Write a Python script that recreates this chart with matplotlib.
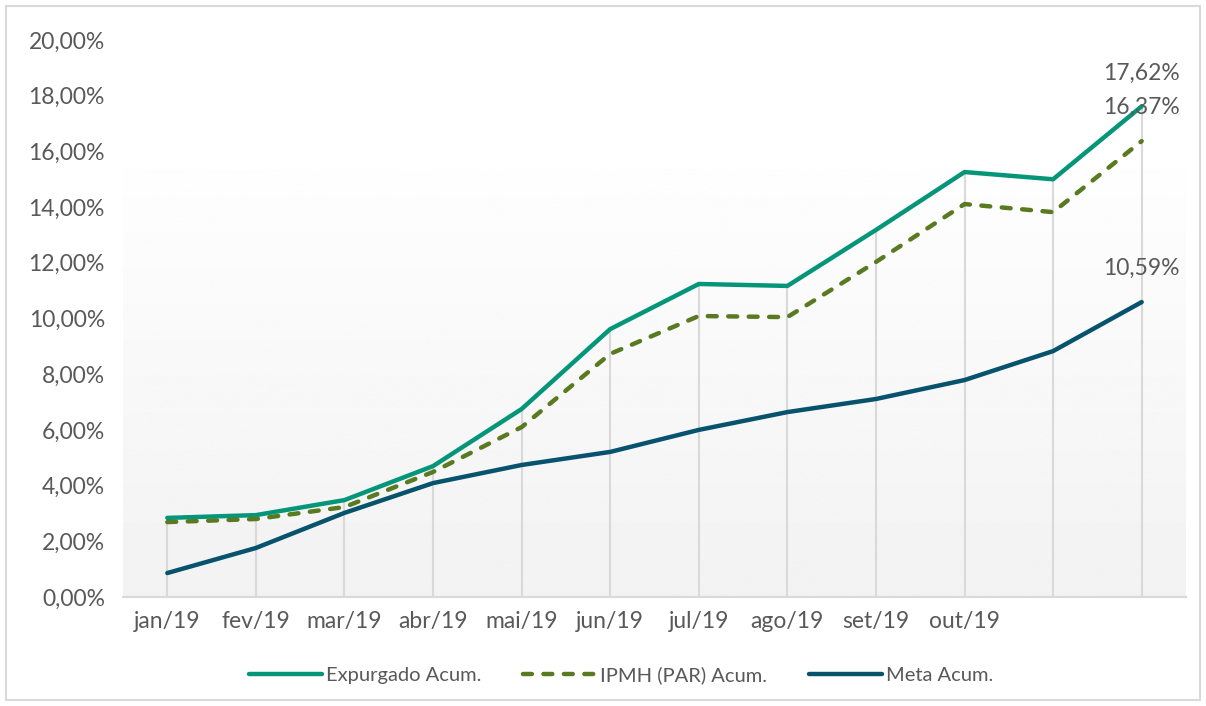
import matplotlib.pyplot as plt
import numpy as np
from matplotlib.patches import Rectangle
from matplotlib.ticker import FuncFormatter

plt.rcParams['font.family'] = ['Lato', 'DejaVu Sans']

meses = ["jan/19", "fev/19", "mar/19", "abr/19", "mai/19", "jun/19",
         "jul/19", "ago/19", "set/19", "out/19", "nov/19", "dez/19"]
rotulos = ["jan/19", "fev/19", "mar/19", "abr/19", "mai/19", "jun/19",
           "jul/19", "ago/19", "set/19", "out/19", "", ""]
expurgado = [2.84, 2.94, 3.48, 4.70, 6.75, 9.62, 11.24, 11.17, 13.18, 15.26, 15.00, 17.62]
ipmh = [2.69, 2.80, 3.23, 4.49, 6.10, 8.73, 10.09, 10.05, 12.03, 14.11, 13.82, 16.37]
meta = [0.86, 1.76, 3.02, 4.09, 4.74, 5.21, 6.00, 6.64, 7.11, 7.79, 8.83, 10.59]

cor_exp = "#05967a"
cor_ipmh = "#5a7a22"
cor_meta = "#07536e"
cinza = "#595959"

fig = plt.figure(figsize=(12.06, 7.06), dpi=100)
ax = fig.add_axes([0.102, 0.1544, 0.8814, 0.7889])

x = np.arange(len(meses))

# fundo em degrade
grad = np.linspace(0.949, 0.995, 256).reshape(-1, 1)
ax.imshow(grad, cmap="gray", vmin=0, vmax=1, origin="lower", aspect="auto",
          extent=[0, 1, 0, 0.767], transform=ax.transAxes, zorder=0)

# linhas de queda
topo = np.maximum(np.maximum(expurgado, ipmh), meta)
ax.vlines(x, 0, topo, color="#d9d9d9", lw=1.5, zorder=1)

ax.plot(x, expurgado, color=cor_exp, lw=3.2, label="Expurgado Acum.", zorder=3,
        solid_capstyle="round")
ax.plot(x, ipmh, color=cor_ipmh, lw=3.2, ls=(0, (2.0, 2.6)), dash_capstyle="round",
        label="IPMH (PAR) Acum.", zorder=3)
ax.plot(x, meta, color=cor_meta, lw=3.2, label="Meta Acum.", zorder=3,
        solid_capstyle="round")

for serie in (expurgado, ipmh, meta):
    v = serie[-1]
    ax.annotate(f"{v:.2f}%".replace(".", ","), (x[-1], v), xytext=(0, 24),
                textcoords="offset points", ha="center", va="center",
                fontsize=16.5, color=cinza, zorder=4)

ax.set_xlim(-0.5, len(meses) - 0.5)
ax.set_ylim(0, 20)
ax.set_yticks(np.arange(0, 21, 2))
ax.yaxis.set_major_formatter(FuncFormatter(lambda v, p: f"{v:.2f}%".replace(".", ",")))
ax.set_xticks(x)
ax.set_xticklabels(rotulos)
ax.tick_params(axis="both", length=0, labelsize=16.5, colors=cinza)
ax.tick_params(axis="y", pad=13)
ax.tick_params(axis="x", pad=10)

for s in ("top", "right", "left"):
    ax.spines[s].set_visible(False)
ax.spines["bottom"].set_color("#d9d9d9")
ax.spines["bottom"].set_linewidth(1.5)

leg = fig.legend(loc="center", bbox_to_anchor=(0.515, 0.044), ncol=3, frameon=False,
                 fontsize=14.5, handlelength=3.6, handletextpad=0.2, columnspacing=2.1)
for t in leg.get_texts():
    t.set_color(cinza)

fig.patches.append(Rectangle((6 / 1206, 6 / 706), 1194 / 1206, 694 / 706,
                             transform=fig.transFigure, fill=False,
                             edgecolor="#d9d9d9", lw=1.5))

fig.savefig("out.png", dpi=100)
